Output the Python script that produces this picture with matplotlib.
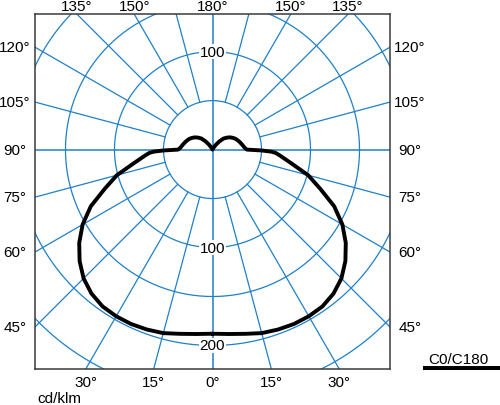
"""Polar light distribution diagram (C0/C180), drawn on a plain square axes"""
import numpy as np
from matplotlib import pyplot as plt
from matplotlib.lines import Line2D

# luminous intensity, cd/klm, for gamma angles 0..180 (curve is symmetric)
gamma = [0, 5, 10, 15, 20, 25, 30, 35, 40, 45, 50, 55, 60, 65, 70, 75, 80,
         85, 87, 88, 89, 90, 93, 97, 100, 105, 110, 115, 120, 125, 130, 135,
         140, 145, 150, 155, 160, 170, 180]
intensity = [188, 189, 191, 194, 195.5, 196.5, 196.5, 195.5, 192, 186, 177,
             166, 153, 137, 117, 101, 82, 69, 64.5, 60, 50, 35, 33, 31.5,
             30.5, 29, 27.5, 26, 24, 21.8, 19, 16, 11, 6, 2.5, 0.5, 0, 0, 0]

rings = [50, 100, 150, 200, 250]
ring_labels = [("100", 100), ("100", -100), ("200", -200)]
spokes = [15, 30, 45, 60, 75, 105, 120, 135, 150, 165]
angle_labels = [0, 15, 30, 45, 60, 75, 90, 105, 120, 135, 150, 180]
unit_label = "cd/klm"
curve_label = "C0/C180"

BLUE = "#1f80c8"
XMAX = 181.1
YMIN, YMAX = -224.0, 138.3

plt.rcParams["font.family"] = ["Liberation Sans", "DejaVu Sans"]
plt.rcParams["font.size"] = 11

fig = plt.figure(figsize=(5, 4.06), dpi=100)
ax = fig.add_axes([0.07, 0.0887, 0.71, 0.874])
ax.set_xlim(-XMAX, XMAX)
ax.set_ylim(YMIN, YMAX)
ax.set_xticks([])
ax.set_yticks([])
for sp in ax.spines.values():
    sp.set_color("#3a3a3a")
    sp.set_linewidth(1.1)

# rings
t = np.linspace(0, 2 * np.pi, 400)
for r in rings:
    ax.plot(r * np.cos(t), r * np.sin(t), color=BLUE, lw=0.9, zorder=1)

# spokes, starting at the inner ring
for g in spokes:
    a = np.radians(g)
    for side in (-1, 1):
        ax.plot([side * 50 * np.sin(a), side * 400 * np.sin(a)],
                [-50 * np.cos(a), -400 * np.cos(a)],
                color=BLUE, lw=0.9, zorder=1)
ax.axhline(0, color=BLUE, lw=1.1, zorder=1)
ax.axvline(0, color=BLUE, lw=1.1, zorder=1)

for txt, y in ring_labels:
    ax.text(0, y, txt, ha="center", va="center", zorder=3,
            bbox=dict(facecolor="white", edgecolor="none", pad=0.6))

# angle labels where the spokes leave the box
for g in angle_labels:
    a = np.radians(g)
    for side in (-1, 1):
        if g in (0, 180) and side == 1:
            continue
        s, c = np.sin(a), np.cos(a)
        if s > 1e-9 and YMIN <= -XMAX / s * c <= YMAX:
            y = -XMAX / s * c
            x = side * (XMAX + 20.4)
        elif c < 0:
            y = YMAX + 8.5
            x = side * s * (YMAX / -c)
        else:
            y = YMIN - 13.3
            x = side * s * (-YMIN / c)
        ax.text(x, y, f"{g}°", ha="center", va="center", clip_on=False)

ax.text(-XMAX + 2, YMIN - 29.5, unit_label, ha="left", va="center",
        clip_on=False)

# light distribution curve
g = np.radians(gamma)
r = np.array(intensity)
xs = np.concatenate([-r * np.sin(g), (r * np.sin(g))[::-1]])
ys = np.concatenate([-r * np.cos(g), (-r * np.cos(g))[::-1]])
ax.plot(xs, ys, color="black", lw=2.8, solid_joinstyle="round",
        solid_capstyle="round", zorder=4)

# legend
fig.text(0.856, 0.1133, curve_label, ha="left", va="center")
fig.add_artist(Line2D([0.85, 0.998], [0.0911, 0.0911], color="black", lw=2.9,
                      transform=fig.transFigure))

fig.savefig("out.png", dpi=100)
